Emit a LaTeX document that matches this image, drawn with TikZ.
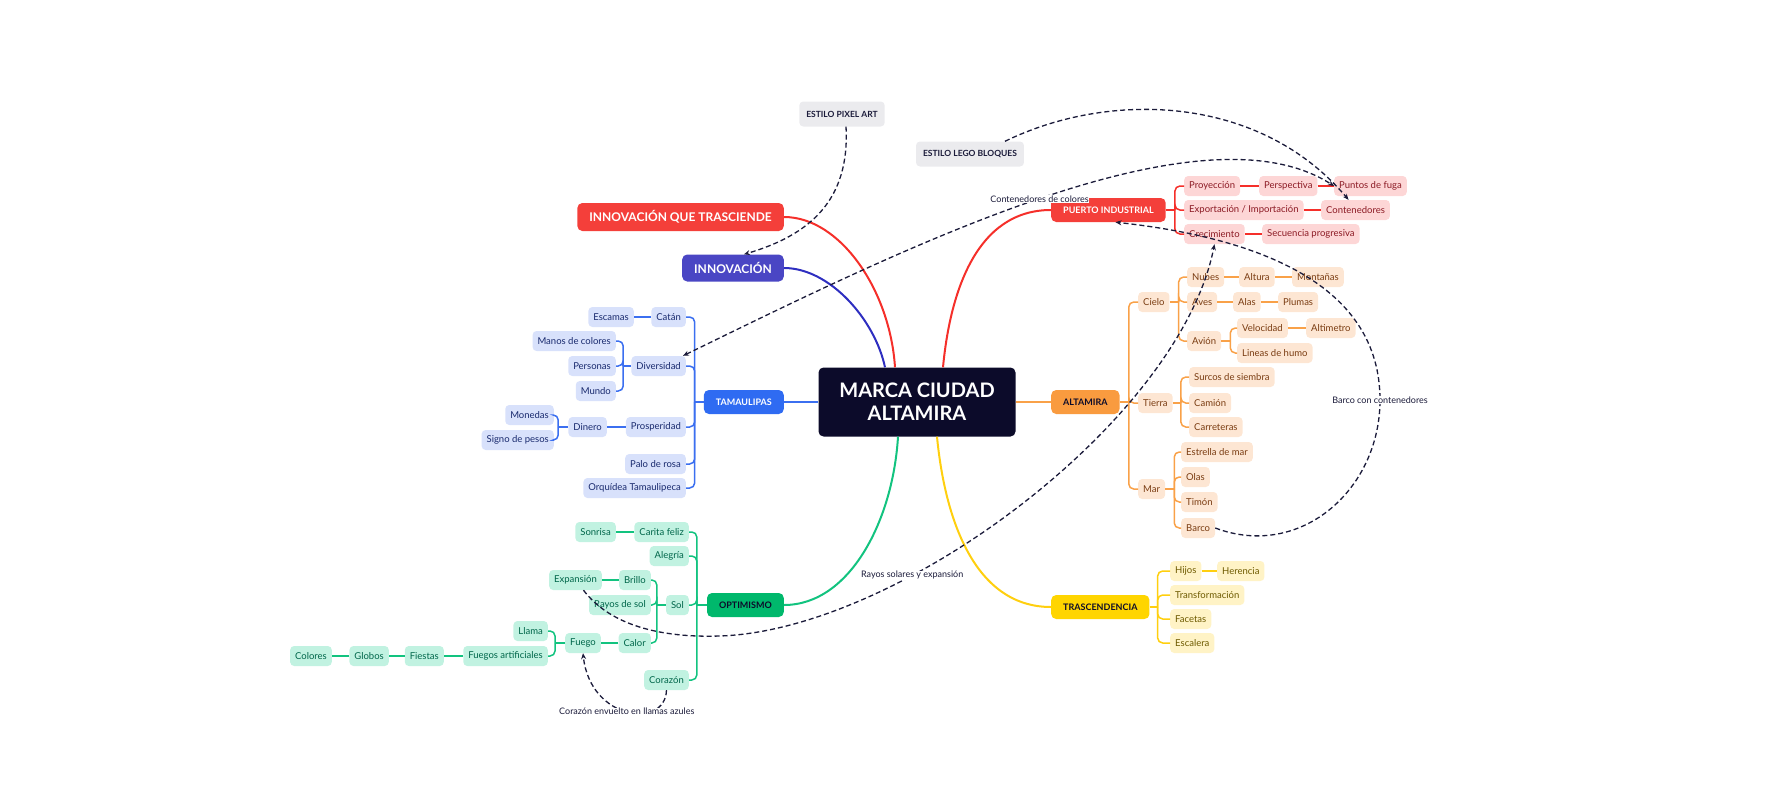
\documentclass[tikz,border=0pt]{standalone}
\usepackage{fontspec}
\setmainfont{Lato}
\usetikzlibrary{arrows.meta}

\definecolor{ink}{HTML}{1B1B3A}
\definecolor{hubcol}{HTML}{0C0B2A}
\definecolor{rojo}{HTML}{F43F3A}
\definecolor{rojoline}{HTML}{F52F2A}
\definecolor{rojosub}{HTML}{FDD6D6}
\definecolor{rojotext}{HTML}{8C1A24}
\definecolor{morado}{HTML}{4A46C4}
\definecolor{moradoline}{HTML}{2E2EC0}
\definecolor{tam}{HTML}{2F6BF2}
\definecolor{tamline}{HTML}{3B6FF0}
\definecolor{tamsub}{HTML}{D8E1FB}
\definecolor{tamtext}{HTML}{192A6E}
\definecolor{opt}{HTML}{00B86C}
\definecolor{optline}{HTML}{12C37F}
\definecolor{optsub}{HTML}{C1F2E1}
\definecolor{opttext}{HTML}{00664A}
\definecolor{alt}{HTML}{F99B3F}
\definecolor{altline}{HTML}{F9A148}
\definecolor{altsub}{HTML}{FDE6D3}
\definecolor{alttext}{HTML}{7A3C12}
\definecolor{tra}{HTML}{FFD500}
\definecolor{traline}{HTML}{FFCF0F}
\definecolor{trasub}{HTML}{FFF3C6}
\definecolor{tratext}{HTML}{6E5A00}
\definecolor{greyfill}{HTML}{EBEBEE}

\begin{document}
\begin{tikzpicture}[
  hub/.style={fill=hubcol, text=white, rounded corners=5pt, minimum width=197pt, minimum height=69pt, align=center, font=\bfseries\fontsize{20}{23}\selectfont},
  topic/.style={rounded corners=5pt, minimum height=24pt, inner xsep=12pt, font=\bfseries\fontsize{9}{10}\selectfont},
  bigtopic/.style={rounded corners=5pt, minimum height=28pt, inner xsep=12pt, text=white, font=\bfseries\fontsize{12}{14}\selectfont},
  leaf/.style={rounded corners=4pt, minimum height=20pt, inner xsep=5pt, inner ysep=2pt, font=\fontsize{9.5}{11}\selectfont},
  tleaf/.style={leaf, fill=tamsub, text=tamtext},
  oleaf/.style={leaf, fill=optsub, text=opttext},
  aleaf/.style={leaf, fill=altsub, text=alttext},
  pleaf/.style={leaf, fill=rojosub, text=rojotext},
  yleaf/.style={leaf, fill=trasub, text=tratext},
  greytag/.style={fill=greyfill, text=ink, rounded corners=4pt, minimum height=25pt, inner xsep=7pt, font=\bfseries\fontsize{8.5}{10}\selectfont},
  lbl/.style={fill=white, text=ink, inner sep=0.5pt, font=\fontsize{9}{10}\selectfont},
  mainline/.style={line width=2pt},
  tline/.style={draw=tamline, line width=1.5pt, rounded corners=5pt},
  oline/.style={draw=optline, line width=1.5pt, rounded corners=5pt},
  aline/.style={draw=altline, line width=1.5pt, rounded corners=5pt},
  pline/.style={draw=rojoline, line width=1.5pt, rounded corners=5pt},
  yline/.style={draw=traline, line width=1.5pt, rounded corners=5pt},
  dlink/.style={draw=ink, line width=1.3pt, dash pattern=on 5pt off 3pt, -{Stealth[length=6pt,width=5pt]}},
  dboth/.style={dlink, {Stealth[length=6pt,width=5pt]}-{Stealth[length=6pt,width=5pt]}}
]
\useasboundingbox (0pt,0pt) rectangle (1792pt,-800pt);

% centre and main topics
\draw (917pt, -402pt)node[hub](marca){MARCA CIUDAD\\ALTAMIRA};
\draw (784pt, -217pt)node[bigtopic, fill=rojo, anchor=east](innovque){INNOVACIÓN QUE TRASCIENDE};
\draw (784pt, -268pt)node[bigtopic, fill=morado, anchor=east, minimum height=27pt](innov){INNOVACIÓN};
\draw (784pt, -402pt)node[topic, fill=tam, text=white, anchor=east](tamaulipas){TAMAULIPAS};
\draw (784pt, -605pt)node[topic, fill=opt, text=hubcol, anchor=east](optimismo){OPTIMISMO};
\draw (1051pt, -210pt)node[topic, fill=rojo, text=white, anchor=west](puerto){PUERTO INDUSTRIAL};
\draw (1051pt, -402pt)node[topic, fill=alt, text=hubcol, anchor=west](altamira){ALTAMIRA};
\draw (1051pt, -607pt)node[topic, fill=tra, text=hubcol, anchor=west](trasc){TRASCENDENCIA};
\draw (842pt, -114pt)node[greytag](pixel){ESTILO PIXEL ART};
\draw (970pt, -154pt)node[greytag](lego){ESTILO LEGO BLOQUES};

% Tamaulipas
\draw (686pt, -317pt)node[tleaf, anchor=east](catan){Catán};
\draw (634pt, -317pt)node[tleaf, anchor=east](escamas){Escamas};
\draw (686pt, -366pt)node[tleaf, anchor=east](diversidad){Diversidad};
\draw (616pt, -341pt)node[tleaf, anchor=east](manos){Manos de colores};
\draw (616pt, -366pt)node[tleaf, anchor=east](personas){Personas};
\draw (616pt, -391pt)node[tleaf, anchor=east](mundo){Mundo};
\draw (686pt, -427pt)node[tleaf, anchor=east](prosperidad){Prosperidad};
\draw (607pt, -427pt)node[tleaf, anchor=east](dinero){Dinero};
\draw (554pt, -415pt)node[tleaf, anchor=east](monedas){Monedas};
\draw (554pt, -440pt)node[tleaf, anchor=east](signo){Signo de pesos};
\draw (686pt, -464pt)node[tleaf, anchor=east](palo){Palo de rosa};
\draw (686pt, -488pt)node[tleaf, anchor=east](orquidea){Orquídea Tamaulipeca};

% Optimismo
\draw (689pt, -532pt)node[oleaf, anchor=east](carita){Carita feliz};
\draw (616pt, -532pt)node[oleaf, anchor=east](sonrisa){Sonrisa};
\draw (689pt, -556pt)node[oleaf, anchor=east](alegria){Alegría};
\draw (689pt, -605pt)node[oleaf, anchor=east](sol){Sol};
\draw (651pt, -580pt)node[oleaf, anchor=east](brillo){Brillo};
\draw (602pt, -580pt)node[oleaf, anchor=east](expansion){Expansión};
\draw (651pt, -605pt)node[oleaf, anchor=east](rayos){Rayos de sol};
\draw (651pt, -643pt)node[oleaf, anchor=east](calor){Calor};
\draw (601pt, -643pt)node[oleaf, anchor=east](fuego){Fuego};
\draw (548pt, -631pt)node[oleaf, anchor=east](llama){Llama};
\draw (548pt, -656pt)node[oleaf, anchor=east](fuegosart){Fuegos artificiales};
\draw (444pt, -656pt)node[oleaf, anchor=east](fiestas){Fiestas};
\draw (389pt, -656pt)node[oleaf, anchor=east](globos){Globos};
\draw (332pt, -656pt)node[oleaf, anchor=east](colores){Colores};
\draw (689pt, -680pt)node[oleaf, anchor=east](corazon){Corazón};

% Puerto industrial
\draw (1184pt, -186pt)node[pleaf, anchor=west](proyeccion){Proyección};
\draw (1259pt, -186pt)node[pleaf, anchor=west](perspectiva){Perspectiva};
\draw (1334pt, -186pt)node[pleaf, anchor=west](puntos){Puntos de fuga};
\draw (1184pt, -210pt)node[pleaf, anchor=west](export){Exportación / Importación};
\draw (1321pt, -210pt)node[pleaf, anchor=west](contenedores){Contenedores};
\draw (1184pt, -234pt)node[pleaf, anchor=west](crecimiento){Crecimiento};
\draw (1262pt, -234pt)node[pleaf, anchor=west](secuencia){Secuencia progresiva};

% Altamira
\draw (1138pt, -302pt)node[aleaf, anchor=west](cielo){Cielo};
\draw (1138pt, -403pt)node[aleaf, anchor=west](tierra){Tierra};
\draw (1138pt, -489pt)node[aleaf, anchor=west](mar){Mar};
\draw (1187pt, -277pt)node[aleaf, anchor=west](nubes){Nubes};
\draw (1239pt, -277pt)node[aleaf, anchor=west](altura){Altura};
\draw (1292pt, -277pt)node[aleaf, anchor=west](montanas){Montañas};
\draw (1187pt, -302pt)node[aleaf, anchor=west](aves){Aves};
\draw (1233pt, -302pt)node[aleaf, anchor=west](alas){Alas};
\draw (1278pt, -302pt)node[aleaf, anchor=west](plumas){Plumas};
\draw (1187pt, -341pt)node[aleaf, anchor=west](avion){Avión};
\draw (1237pt, -328pt)node[aleaf, anchor=west](velocidad){Velocidad};
\draw (1306pt, -328pt)node[aleaf, anchor=west](altimetro){Altimetro};
\draw (1237pt, -353pt)node[aleaf, anchor=west](lineas){Lineas de humo};
\draw (1189pt, -377pt)node[aleaf, anchor=west](surcos){Surcos de siembra};
\draw (1189pt, -403pt)node[aleaf, anchor=west](camion){Camión};
\draw (1189pt, -427pt)node[aleaf, anchor=west](carreteras){Carreteras};
\draw (1181pt, -452pt)node[aleaf, anchor=west](estrella){Estrella de mar};
\draw (1181pt, -477pt)node[aleaf, anchor=west](olas){Olas};
\draw (1181pt, -502pt)node[aleaf, anchor=west](timon){Timón};
\draw (1181pt, -528pt)node[aleaf, anchor=west](barco){Barco};

% Trascendencia
\draw (1170pt, -571pt)node[yleaf, anchor=west](hijos){Hijos};
\draw (1217pt, -571pt)node[yleaf, anchor=west](herencia){Herencia};
\draw (1170pt, -595pt)node[yleaf, anchor=west](transf){Transformación};
\draw (1170pt, -619pt)node[yleaf, anchor=west](facetas){Facetas};
\draw (1170pt, -643pt)node[yleaf, anchor=west](escalera){Escalera};

% spines
\coordinate (tamaulipas-s) at ([xshift=-9pt]tamaulipas.west);
\coordinate (diversidad-s) at ([xshift=-8pt]diversidad.west);
\coordinate (dinero-s) at ([xshift=-10pt]dinero.west);
\coordinate (optimismo-s) at ([xshift=-10pt]optimismo.west);
\coordinate (sol-s) at ([xshift=-9pt]sol.west);
\coordinate (fuego-s) at ([xshift=-10pt]fuego.west);
\coordinate (puerto-s) at ([xshift=9pt]puerto.east);
\coordinate (altamira-s) at ([xshift=9pt]altamira.east);
\coordinate (cielo-s) at ([xshift=9pt]cielo.east);
\coordinate (avion-s) at ([xshift=9pt]avion.east);
\coordinate (tierra-s) at ([xshift=8pt]tierra.east);
\coordinate (mar-s) at ([xshift=9pt]mar.east);
\coordinate (trasc-s) at ([xshift=8pt]trasc.east);

% main branches
\draw[mainline, rojoline] ([xshift=26pt]marca.north) .. controls (950pt,-293pt) and (976pt,-210pt) .. (puerto.west);
\draw[mainline, rojoline] (innovque.east) .. controls (840pt,-217pt) and (890pt,-290pt) .. ([xshift=-22pt]marca.north);
\draw[mainline, moradoline] (innov.east) .. controls (830pt,-268pt) and (875pt,-320pt) .. ([xshift=-32pt]marca.north);
\draw[mainline, tamline] (tamaulipas.east) -- (marca.west);
\draw[mainline, optline] (optimismo.east) .. controls (850pt,-605pt) and (893pt,-520pt) .. ([xshift=-19pt]marca.south);
\draw[mainline, traline] ([xshift=20pt]marca.south) .. controls (945pt,-520pt) and (975pt,-607pt) .. (trasc.west);
\draw[mainline, altline] (marca.east) -- (altamira.west);

% Tamaulipas lines
\draw[tline] (tamaulipas.west) -- (tamaulipas-s);
\draw[tline] (tamaulipas-s) |- (catan.east);
\draw[tline] (tamaulipas-s) |- (diversidad.east);
\draw[tline] (tamaulipas-s) |- (prosperidad.east);
\draw[tline] (tamaulipas-s) |- (palo.east);
\draw[tline] (tamaulipas-s) |- (orquidea.east);
\draw[tline] (catan) -- (escamas);
\draw[tline] (diversidad.west) -- (diversidad-s);
\draw[tline] (diversidad-s) |- (manos.east);
\draw[tline] (diversidad-s) |- (personas.east);
\draw[tline] (diversidad-s) |- (mundo.east);
\draw[tline] (prosperidad) -- (dinero);
\draw[tline] (dinero.west) -- (dinero-s);
\draw[tline] (dinero-s) |- (monedas.east);
\draw[tline] (dinero-s) |- (signo.east);

% Optimismo lines
\draw[oline] (optimismo.west) -- (optimismo-s);
\draw[oline] (optimismo-s) |- (carita.east);
\draw[oline] (optimismo-s) |- (alegria.east);
\draw[oline] (optimismo-s) |- (sol.east);
\draw[oline] (optimismo-s) |- (corazon.east);
\draw[oline] (carita) -- (sonrisa);
\draw[oline] (sol.west) -- (sol-s);
\draw[oline] (sol-s) |- (brillo.east);
\draw[oline] (sol-s) |- (rayos.east);
\draw[oline] (sol-s) |- (calor.east);
\draw[oline] (brillo) -- (expansion);
\draw[oline] (calor) -- (fuego);
\draw[oline] (fuego.west) -- (fuego-s);
\draw[oline] (fuego-s) |- (llama.east);
\draw[oline] (fuego-s) |- (fuegosart.east);
\draw[oline] (fuegosart) -- (fiestas);
\draw[oline] (fiestas) -- (globos);
\draw[oline] (globos) -- (colores);

% Puerto lines
\draw[pline] (puerto.east) -- (puerto-s);
\draw[pline] (puerto-s) |- (proyeccion.west);
\draw[pline] (puerto-s) |- (export.west);
\draw[pline] (puerto-s) |- (crecimiento.west);
\draw[pline] (proyeccion) -- (perspectiva);
\draw[pline] (perspectiva) -- (puntos);
\draw[pline] (export) -- (contenedores);
\draw[pline] (crecimiento) -- (secuencia);

% Altamira lines
\draw[aline] (altamira.east) -- (altamira-s);
\draw[aline] (altamira-s) |- (cielo.west);
\draw[aline] (altamira-s) |- (tierra.west);
\draw[aline] (altamira-s) |- (mar.west);
\draw[aline] (cielo.east) -- (cielo-s);
\draw[aline] (cielo-s) |- (nubes.west);
\draw[aline] (cielo-s) |- (aves.west);
\draw[aline] (cielo-s) |- (avion.west);
\draw[aline] (nubes) -- (altura);
\draw[aline] (altura) -- (montanas);
\draw[aline] (aves) -- (alas);
\draw[aline] (alas) -- (plumas);
\draw[aline] (avion.east) -- (avion-s);
\draw[aline] (avion-s) |- (velocidad.west);
\draw[aline] (avion-s) |- (lineas.west);
\draw[aline] (velocidad) -- (altimetro);
\draw[aline] (tierra.east) -- (tierra-s);
\draw[aline] (tierra-s) |- (surcos.west);
\draw[aline] (tierra-s) |- (camion.west);
\draw[aline] (tierra-s) |- (carreteras.west);
\draw[aline] (mar.east) -- (mar-s);
\draw[aline] (mar-s) |- (estrella.west);
\draw[aline] (mar-s) |- (olas.west);
\draw[aline] (mar-s) |- (timon.west);
\draw[aline] (mar-s) |- (barco.west);

% Trascendencia lines
\draw[yline] (trasc.east) -- (trasc-s);
\draw[yline] (trasc-s) |- (hijos.west);
\draw[yline] (trasc-s) |- (transf.west);
\draw[yline] (trasc-s) |- (facetas.west);
\draw[yline] (trasc-s) |- (escalera.west);
\draw[yline] (hijos) -- (herencia);

% dashed links
\draw[dlink] ([xshift=4pt]pixel.south) .. controls (850pt,-200pt) and (810pt,-235pt) .. ([xshift=11pt]innov.north);
\draw[dlink] ([xshift=35pt]lego.north) .. controls (1110pt,-90pt) and (1260pt,-95pt) .. ([xshift=-7pt]contenedores.north);
\draw[dboth] ([xshift=-3pt]diversidad.north east) .. controls (900pt,-250pt) and (1200pt,-100pt) .. (puntos.west) node[lbl, pos=0.5](lblcont){Contenedores de colores};
\draw[dlink] ([xshift=8pt]expansion.south) .. controls (610pt,-625pt) and (660pt,-638pt) .. (720pt,-636pt) .. controls (900pt,-630pt) and (1180pt,-420pt) .. (crecimiento.south) node[lbl, pos=0.32](lblrayos){Rayos solares y expansión};
\draw[dlink] (barco.east) .. controls (1300pt,-560pt) and (1380pt,-490pt) .. (1380pt,-400pt) node[lbl](lblbarco){Barco con contenedores} .. controls (1380pt,-285pt) and (1260pt,-238pt) .. ([xshift=7pt]puerto.south);
\draw[dlink] (corazon.south) .. controls (665pt,-730pt) and (590pt,-720pt) .. (fuego.south) node[lbl, pos=0.5](lblcorazon){Corazón envuelto en llamas azules};
\end{tikzpicture}
\end{document}
